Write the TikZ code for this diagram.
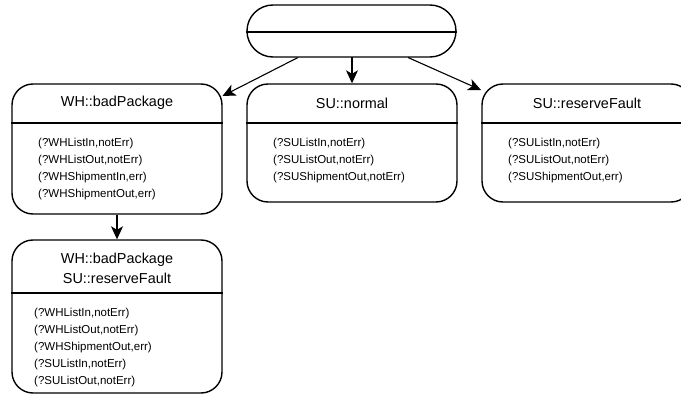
\documentclass[tikz,border=0pt]{standalone}
\usepackage{fontspec}
\setmainfont{Liberation Sans}
\usetikzlibrary{arrows.meta}
\begin{document}
\begin{tikzpicture}[x=1pt,y=-1pt,
  statebox/.style={draw, line width=1.4pt, rounded corners=21pt, inner sep=0pt, minimum width=210pt},
  divider/.style={line width=1.4pt},
  titletext/.style={inner sep=0pt, align=center, font=\fontsize{14.4}{20}\selectfont},
  bodytext/.style={inner sep=0pt, align=left, anchor=north west, font=\fontsize{11.5}{17}\selectfont},
  conn/.style={line width=1.1pt, -{Stealth[length=13pt,width=12pt,inset=3.5pt]}}]
\clip (0,0) rectangle (681,396);
\fill[white] (0,0) rectangle (681,396);
% top (empty) state
\node[statebox, rounded corners=26pt, minimum width=209pt, minimum height=52pt] (top) at (351.5,31) {};
\draw[divider] (top.west |- 0,32) -- (top.east |- 0,32);
% WH::badPackage
\node[statebox, minimum height=130pt] (wh) at (117,149) {};
\draw[divider] (wh.west |- 0,123) -- (wh.east |- 0,123);
\node[titletext] (whT) at (117,103) {WH::badPackage};
\node[bodytext] (whB) at (38,138) {(?WHListIn,notErr)\\(?WHListOut,notErr)\\(?WHShipmentIn,err)\\(?WHShipmentOut,err)};
% SU::normal
\node[statebox, minimum height=118pt] (nor) at (352,143) {};
\draw[divider] (nor.west |- 0,123) -- (nor.east |- 0,123);
\node[titletext] (norT) at (352,103) {SU::normal};
\node[bodytext] (norB) at (273,138) {(?SUListIn,notErr)\\(?SUListOut,notErr)\\(?SUShipmentOut,notErr)};
% SU::reserveFault
\node[statebox, minimum height=118pt] (res) at (587,143) {};
\draw[divider] (res.west |- 0,123) -- (res.east |- 0,123);
\node[titletext] (resT) at (587,103) {SU::reserveFault};
\node[bodytext] (resB) at (508,138) {(?SUListIn,notErr)\\(?SUListOut,notErr)\\(?SUShipmentOut,err)};
% combined
\node[statebox, minimum height=153pt] (bot) at (117,316.5) {};
\draw[divider] (bot.west |- 0,293) -- (bot.east |- 0,293);
\node[titletext] (botT) at (117,268) {WH::badPackage\\SU::reserveFault};
\node[bodytext] (botB) at (34,308) {(?WHListIn,notErr)\\(?WHListOut,notErr)\\(?WHShipmentOut,err)\\(?SUListIn,notErr)\\(?SUListOut,notErr)};
% connectors
\coordinate (a1) at (298,57.5);
\coordinate (a2) at (222.5,96);
\coordinate (b1) at (352,57.5);
\coordinate (c1) at (408,57.5);
\coordinate (c2) at (481,90);
\draw[conn] (a1) -- (a2);
\draw[conn] (b1) -- (b1 |- nor.north);
\draw[conn] (c1) -- (c2);
\draw[conn] (wh.south) -- (bot.north);
\end{tikzpicture}
\end{document}
